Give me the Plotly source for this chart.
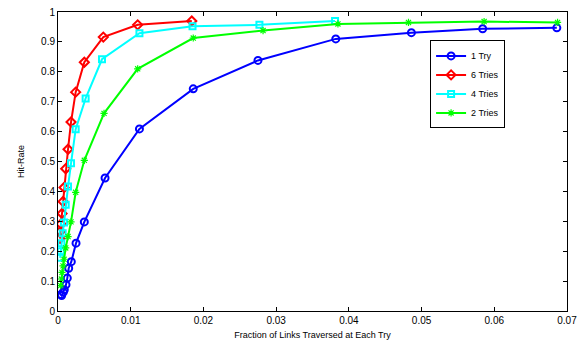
import plotly.graph_objects as go

# 1 Try
x1 = [0.0004, 0.0005, 0.00073, 0.00087, 0.0011, 0.00128, 0.00147, 0.00183, 0.00248, 0.00362,
      0.00647, 0.0112, 0.0186, 0.0275, 0.0382, 0.0486, 0.0584, 0.0686]
y1 = [0.055, 0.052, 0.063, 0.071, 0.088, 0.110, 0.143, 0.165, 0.227, 0.298,
      0.445, 0.609, 0.743, 0.838, 0.910, 0.931, 0.944, 0.947]

# 6 Tries
x6 = [0.00028, 0.00032, 0.00041, 0.00055, 0.00069, 0.00083, 0.00106, 0.00138, 0.00179, 0.00243,
      0.00362, 0.00623, 0.01096, 0.0184]
y6 = [0.242, 0.266, 0.291, 0.326, 0.366, 0.413, 0.476, 0.541, 0.632, 0.732,
      0.832, 0.916, 0.957, 0.970]

# 4 Tries
x4 = [0.0003, 0.00037, 0.00046, 0.00064, 0.00083, 0.00106, 0.00138, 0.00179, 0.00243, 0.0038,
      0.00605, 0.0112, 0.0185, 0.0277, 0.0381]
y4 = [0.178, 0.200, 0.227, 0.260, 0.296, 0.355, 0.416, 0.494, 0.608, 0.711,
      0.842, 0.929, 0.952, 0.957, 0.970]

# 2 Tries
x2 = [0.00037, 0.00046, 0.00055, 0.00069, 0.00083, 0.00106, 0.00138, 0.00179, 0.00243, 0.00362,
      0.00633, 0.01096, 0.0186, 0.0282, 0.0385, 0.0482, 0.0586, 0.0687]
y2 = [0.085, 0.107, 0.129, 0.151, 0.173, 0.211, 0.249, 0.298, 0.397, 0.504,
      0.661, 0.810, 0.913, 0.938, 0.960, 0.965, 0.968, 0.965]

x_ticks = [0, 0.01, 0.02, 0.03, 0.04, 0.05, 0.06, 0.07]
x_tick_labels = ["0", "0.01", "0.02", "0.03", "0.04", "0.05", "0.06", "0.07"]
y_ticks = [0, 0.1, 0.2, 0.3, 0.4, 0.5, 0.6, 0.7, 0.8, 0.9, 1]
y_tick_labels = ["0", "0.1", "0.2", "0.3", "0.4", "0.5", "0.6", "0.7", "0.8", "0.9", "1"]

series = [
    ("1 Try", x1, y1, "#0000ff", "circle-open", 7, 2),
    ("6 Tries", x6, y6, "#ff0000", "diamond-open", 7, 2),
    ("4 Tries", x4, y4, "#00ffff", "square-open", 6, 2),
    ("2 Tries", x2, y2, "#00ff00", "asterisk-open", 6, 1.2),
]

fig = go.Figure()
for name, xs, ys, col, sym, sz, mlw in series:
    fig.add_trace(go.Scatter(
        x=xs, y=ys, name=name, mode="lines+markers",
        line=dict(color=col, width=2),
        marker=dict(symbol=sym, size=sz, color=col, line=dict(color=col, width=mlw)),
    ))

axis_common = dict(
    showgrid=False, zeroline=False, showline=True, linecolor="black", linewidth=1,
    mirror="ticks", ticks="inside", ticklen=4, tickcolor="black",
    tickfont=dict(family="Liberation Sans, Arial, sans-serif", size=10, color="black"),
)

fig.update_layout(
    width=588, height=345,
    margin=dict(l=58, r=21, t=6, b=34),
    paper_bgcolor="white", plot_bgcolor="white",
    font=dict(family="Liberation Sans, Arial, sans-serif", size=10, color="black"),
    xaxis=dict(range=[0, 0.07], tickvals=x_ticks, ticktext=x_tick_labels,
               title=dict(text="Fraction of Links Traversed at Each Try", font=dict(size=9), standoff=6),
               **axis_common),
    yaxis=dict(range=[0, 1], tickvals=y_ticks, ticktext=y_tick_labels,
               title=dict(text="Hit-Rate", font=dict(size=9), standoff=14),
               **axis_common),
    legend=dict(x=0.731, y=0.905, xanchor="left", yanchor="top",
                bgcolor="white", bordercolor="black", borderwidth=1,
                font=dict(size=9), itemwidth=30, tracegroupgap=0),
    showlegend=True,
)

fig.write_html("out.html", config={"displayModeBar": False},
               post_script="document.body.style.margin='0';document.body.style.padding='0';")
